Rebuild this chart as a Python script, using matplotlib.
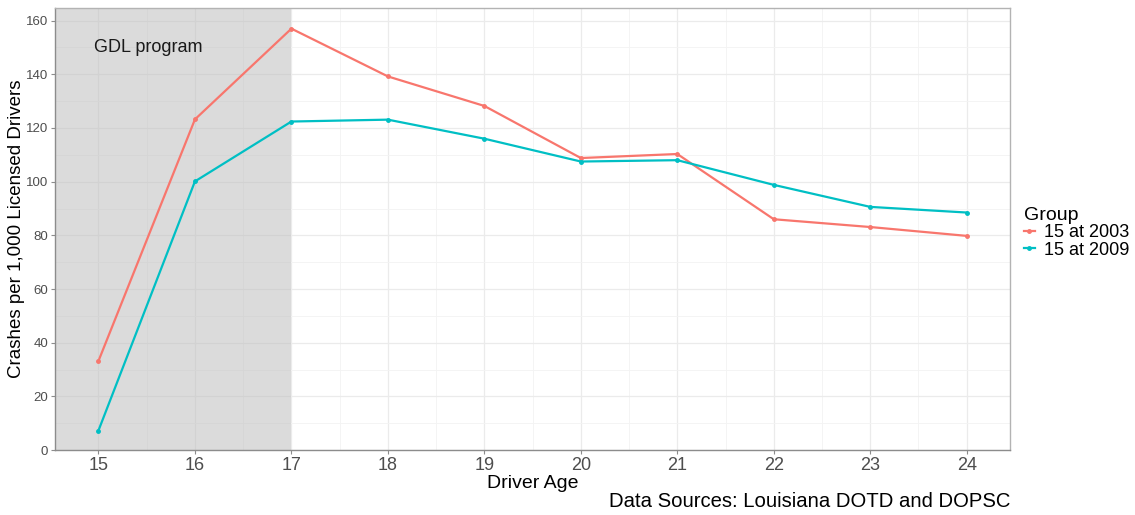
import matplotlib.pyplot as plt

ages = [15, 16, 17, 18, 19, 20, 21, 22, 23, 24]
crashes_2003 = [33.2, 123.2, 157.0, 139.2, 128.2, 108.8, 110.3, 86.0, 83.1, 79.8]
crashes_2009 = [7.3, 100.1, 122.4, 123.1, 116.0, 107.5, 108.0, 98.8, 90.6, 88.5]
group_labels = ["15 at 2003", "15 at 2009"]

RED = "#F8766D"
TEAL = "#00BFC4"

plt.rcParams["font.family"] = ["Liberation Sans", "DejaVu Sans"]

fig = plt.figure(figsize=(11.35, 5.15), dpi=100)
ax = fig.add_axes([0.0485, 0.126, 0.8415, 0.858])

xlo, xhi = 14.55, 24.45
ylo, yhi = 0, 164.6
ax.set_xlim(xlo, xhi)
ax.set_ylim(ylo, yhi)

# grid
ax.set_xticks(ages)
ax.set_yticks(range(0, 161, 20))
ax.set_xticks([a + 0.5 for a in ages[:-1]], minor=True)
ax.set_yticks(range(10, 161, 20), minor=True)
ax.grid(which="major", color="#EBEBEB", lw=0.9)
ax.grid(which="minor", color="#F3F3F3", lw=0.6)
ax.set_axisbelow(True)

# GDL shaded region, drawn over the grid so it shows through faintly
ax.axvspan(xlo, 17, color="#BEBEBE", alpha=0.55, lw=0, zorder=1)

ax.plot(ages, crashes_2003, color=RED, lw=1.6, marker="o", ms=2.5, label=group_labels[0], zorder=3)
ax.plot(ages, crashes_2009, color=TEAL, lw=1.6, marker="o", ms=2.5, label=group_labels[1], zorder=3)

ax.text(14.95, 150, "GDL program", fontsize=13, va="center", ha="left", color="#1a1a1a", zorder=4)

for s in ax.spines.values():
    s.set_color("#B3B3B3")
    s.set_linewidth(1.0)
ax.spines["left"].set_color("#8C8C8C")
ax.spines["bottom"].set_color("#8C8C8C")

ax.tick_params(axis="x", which="major", labelsize=13, colors="#8C8C8C", labelcolor="#4D4D4D", length=3, pad=2)
ax.tick_params(axis="y", which="major", labelsize=9.5, colors="#8C8C8C", labelcolor="#4D4D4D", length=3, pad=2)
ax.tick_params(which="minor", length=0)

ax.set_xlabel("Driver Age", fontsize=14, labelpad=1)
ax.set_ylabel("Crashes per 1,000 Licensed Drivers", fontsize=13.5)
ax.yaxis.set_label_coords(-0.031, 0.5)

leg = ax.legend(title="Group", loc="upper left", bbox_to_anchor=(1.003, 0.575),
                frameon=False, fontsize=13, title_fontsize=14, handlelength=0.6,
                handletextpad=0.5, labelspacing=0.02, borderaxespad=0.2)
leg._legend_box.align = "left"

fig.text(0.890, 0.008, "Data Sources: Louisiana DOTD and DOPSC", fontsize=14.6, ha="right", va="bottom")

fig.savefig("out.png", dpi=100)
